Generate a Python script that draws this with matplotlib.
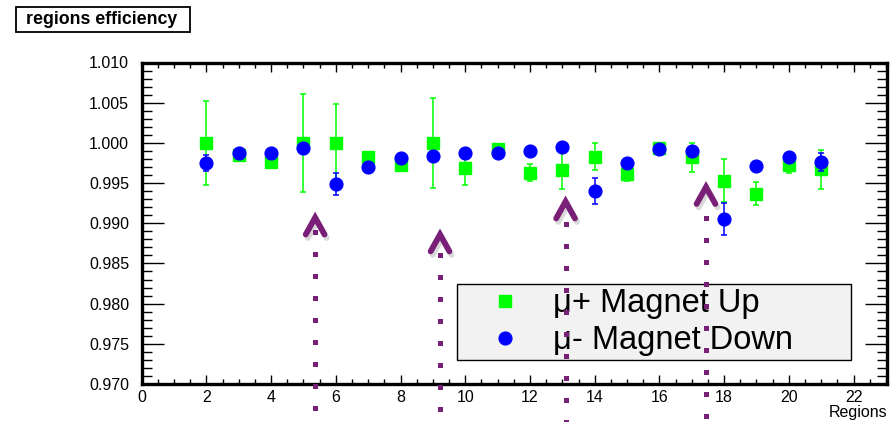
import numpy as np
import matplotlib
matplotlib.use("Agg")
import matplotlib.pyplot as plt
import matplotlib.patheffects as pe
from matplotlib.lines import Line2D
from matplotlib.patches import Rectangle
from matplotlib.ticker import MultipleLocator, FormatStrFormatter

plt.rcParams['font.family'] = ['Liberation Sans', 'DejaVu Sans']

# efficiency per region, mu+ with magnet up
regions = [2, 3, 4, 5, 6, 7, 8, 9, 10, 11, 12, 13, 14, 15, 16, 17, 18, 19, 20, 21]
eff_up = [1.0000, 0.9985, 0.9976, 1.0000, 1.0000, 0.9982, 0.9972, 1.0000, 0.9969, 0.9993,
          0.9963, 0.9966, 0.9983, 0.9961, 0.9994, 0.9982, 0.9953, 0.9937, 0.9973, 0.9967]
err_up = [0.0052, 0.0004, 0.0004, 0.0061, 0.0048, 0.0003, 0.0004, 0.0056, 0.0022, 0.0003,
          0.0011, 0.0024, 0.0017, 0.0009, 0.0002, 0.0018, 0.0027, 0.0014, 0.0010, 0.0024]

# mu- with magnet down
eff_down = [0.9975, 0.9988, 0.9987, 0.9994, 0.9949, 0.9970, 0.9981, 0.9984, 0.9988, 0.9988,
            0.9990, 0.9995, 0.9940, 0.9975, 0.9993, 0.9990, 0.9905, 0.9971, 0.9983, 0.9976]
err_down = [0.0010, 0.0004, 0.0004, 0.0004, 0.0014, 0.0004, 0.0004, 0.0006, 0.0004, 0.0004,
            0.0004, 0.0004, 0.0016, 0.0004, 0.0004, 0.0004, 0.0020, 0.0004, 0.0004, 0.0011]

# hand-drawn arrows: x position, tip height and the first dot of the stem
arrow_x = [5.36, 9.22, 13.10, 17.44]
arrow_tip = [0.9907, 0.9886, 0.9927, 0.9945]
stem_top = [0.9889, 0.9861, 0.9899, 0.9907]

W, H = 895, 422
fig = plt.figure(figsize=(W / 100, H / 100), dpi=100)
ax = fig.add_axes([141.7 / W, 38 / H, (887.5 - 141.7) / W, (384 - 62.5) / H])

ax.errorbar(regions, eff_up, yerr=err_up, fmt='s', color='#00ff00', ms=9, elinewidth=1.1,
            capsize=2.2, capthick=1.1, zorder=3)
ax.errorbar(regions, eff_down, yerr=err_down, fmt='o', color='#0000ff', ms=9.2, elinewidth=1.1,
            capsize=2.2, capthick=1.1, zorder=4)

ax.set_xlim(0, 23.05)
ax.set_ylim(0.970, 1.010)
ax.xaxis.set_major_locator(MultipleLocator(2))
ax.xaxis.set_minor_locator(MultipleLocator(0.5))
ax.yaxis.set_major_locator(MultipleLocator(0.005))
ax.yaxis.set_minor_locator(MultipleLocator(0.001))
ax.yaxis.set_major_formatter(FormatStrFormatter('%.3f'))

for s in ax.spines.values():
    s.set_linewidth(2.4)
ax.tick_params(axis='x', which='both', direction='in', top=True, labelsize=11.5, pad=4)
ax.tick_params(axis='x', which='major', length=6.3, width=1)
ax.tick_params(axis='x', which='minor', length=3.3, width=1)
ax.tick_params(axis='y', which='both', direction='in', right=True, labelsize=11.5, pad=9)
ax.tick_params(axis='y', which='major', length=15.5, width=1)
ax.tick_params(axis='y', which='minor', length=7.2, width=1)

handles = [Line2D([], [], marker='s', ls='none', color='#00ff00', ms=9),
           Line2D([], [], marker='o', ls='none', color='#0000ff', ms=9.2)]
leg = ax.legend(handles, ['\u03bc+ Magnet Up', '\u03bc- Magnet Down'], loc='center', mode='expand',
                bbox_to_anchor=(457 / W, (H - 366) / H, 394 / W, 88 / H),
                bbox_transform=fig.transFigure, borderaxespad=0, fontsize=23.5,
                borderpad=0.12, labelspacing=0.18, handlelength=2.72, handletextpad=0.09,
                fancybox=False, framealpha=1, facecolor='#f2f2f2', edgecolor='black')
leg.get_frame().set_linewidth(1)

# purple arrows with dotted stems running off the bottom; added to the figure
# so they sit on top of the legend too
purple = '#7a1f78'
shadow = [pe.SimpleLineShadow(offset=(1.5, -2.5), shadow_color='gray', alpha=0.3), pe.Normal()]
dot_step = 0.00274  # about 22 px between dots
for xa, ya, ys in zip(arrow_x, arrow_tip, stem_top):
    head = Line2D([xa - 0.29, xa, xa + 0.29], [ya - 0.0021, ya, ya - 0.0021], color=purple,
                  lw=4.2, solid_joinstyle='miter', solid_capstyle='round',
                  transform=ax.transData, zorder=10, path_effects=shadow)
    dots_y = np.arange(ys, 0.9650, -dot_step)
    stem = Line2D(np.full(len(dots_y), xa), dots_y, ls='none', marker='s', ms=3.6, mew=0,
                  color=purple, transform=ax.transData, zorder=10)
    fig.add_artist(head)
    fig.add_artist(stem)

# title box in the top-left corner
fig.patches.append(Rectangle((16 / W, (H - 32) / H), 174 / W, 25 / H, transform=fig.transFigure,
                             fill=False, edgecolor='black', lw=1.3))
fig.text(26 / W, (H - 19.5) / H, 'regions efficiency', fontsize=12.8, fontweight='bold',
         va='center', ha='left')
fig.text(887 / W, (H - 413) / H, 'Regions', fontsize=11.5, ha='right', va='center')

fig.savefig('out.png', dpi=100)
